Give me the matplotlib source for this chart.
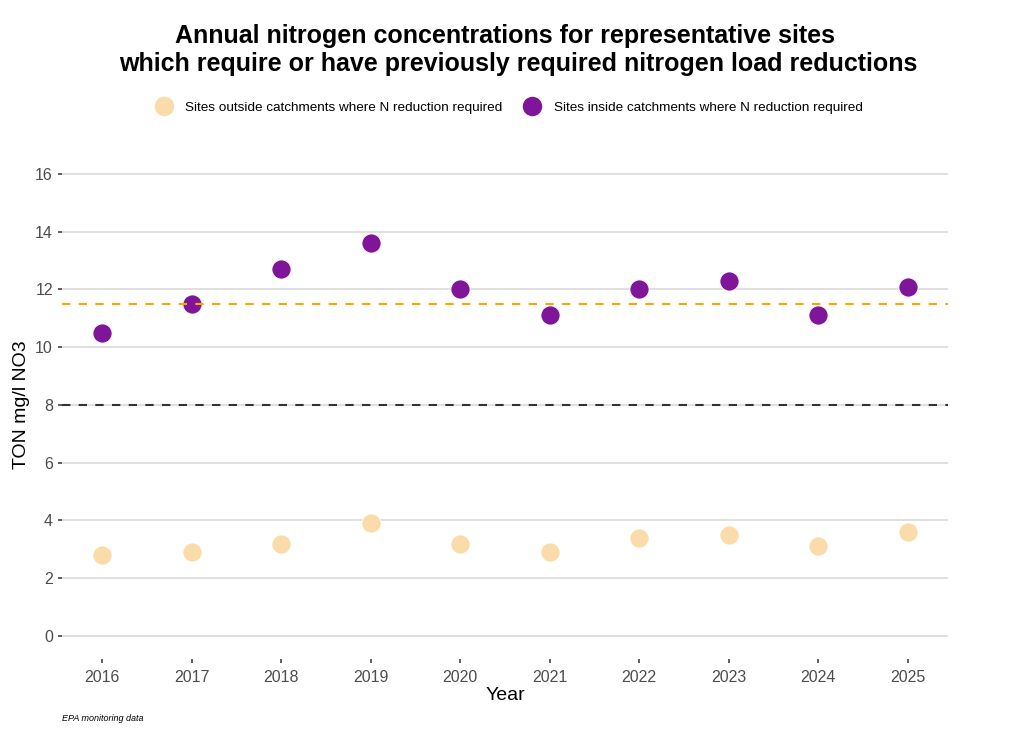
import matplotlib.pyplot as plt
from matplotlib.lines import Line2D

plt.rcParams['font.family'] = ['Liberation Sans', 'DejaVu Sans']

years = [2016, 2017, 2018, 2019, 2020, 2021, 2022, 2023, 2024, 2025]
outside = [2.8, 2.9, 3.2, 3.9, 3.2, 2.9, 3.4, 3.5, 3.1, 3.6]
inside = [10.5, 11.5, 12.7, 13.6, 12.0, 11.1, 12.0, 12.3, 11.1, 12.1]
threshold_high = 11.5
threshold_low = 8
labels = ['Sites outside catchments where N reduction required',
          'Sites inside catchments where N reduction required']
c_out = '#F9DCA9'
c_in = '#7F1699'

fig = plt.figure(figsize=(10.23, 7.29), dpi=100)
ax = fig.add_axes([0.0606, 0.096, 0.866, 0.697])

for y in range(0, 17, 2):
    ax.axhline(y, color='#DADADA', lw=1.2, zorder=0)

ax.scatter(years, outside, s=190, color=c_out, edgecolor='white', linewidth=0.6, zorder=3)
ax.scatter(years, inside, s=190, color=c_in, edgecolor='white', linewidth=0.6, zorder=3)
ax.axhline(threshold_high, color='#FFA500', lw=1.5, ls=(0, (4, 4)), zorder=4)
ax.axhline(threshold_low, color='#333333', lw=1.5, ls=(0, (4, 4)), zorder=4)

ax.set_xlim(2015.55, 2025.45)
ax.set_ylim(-0.8, 16.8)
ax.set_xticks(years)
ax.set_yticks(range(0, 17, 2))
for s in ax.spines.values():
    s.set_visible(False)
ax.tick_params(axis='both', colors='#333333', labelcolor='#4D4D4D', labelsize=11.5,
               length=3, width=1.1)
ax.tick_params(axis='x', pad=5)
ax.set_xlabel('Year', fontsize=14, labelpad=1)
ax.set_ylabel('TON mg/l NO3', fontsize=14, labelpad=4)

fig.text(0.494, 0.950, 'Annual nitrogen concentrations for representative sites',
         ha='center', va='center', fontsize=18, fontweight='bold')
fig.text(0.507, 0.912, 'which require or have previously required nitrogen load reductions',
         ha='center', va='center', fontsize=18, fontweight='bold')

handles = [Line2D([], [], marker='o', ls='', markersize=13, color=c_out),
           Line2D([], [], marker='o', ls='', markersize=13, color=c_in)]
fig.legend(handles, labels, loc='center', bbox_to_anchor=(0.495, 0.852), ncol=2,
           frameon=False, fontsize=9.7, handletextpad=0.6, columnspacing=1.2)

fig.text(0.0606, 0.011, 'EPA monitoring data', fontsize=6.5, style='italic')

fig.savefig('out.png', dpi=100)
